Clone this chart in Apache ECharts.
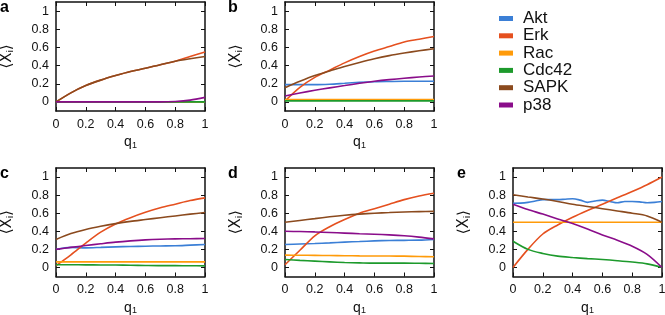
<!DOCTYPE html>
<html>
<head>
<meta charset="utf-8">
<script src="https://cdn.jsdelivr.net/npm/echarts@6/dist/echarts.min.js"></script>
<style>
html,body{margin:0;padding:0;background:#fff;}
#chart{width:665px;height:315px;}
</style>
</head>
<body>
<div id="chart"></div>
<script>
// ---- data ----
var NAMES = ['Akt', 'Erk', 'Rac', 'Cdc42', 'SAPK', 'p38'];
var COLORS = ['#3b7fd6', '#e5501f', '#ff9b0a', '#1d9a2c', '#8b4a1e', '#8a0d8a'];
var PANEL_LABELS = ['a', 'b', 'c', 'd', 'e'];
var Q = [0, 0.1, 0.2, 0.3, 0.4, 0.5, 0.6, 0.7, 0.8, 0.9, 1];
var Q_FINE = [0, 0.05, 0.1, 0.15, 0.2, 0.25, 0.3, 0.35, 0.4, 0.45, 0.5, 0.55, 0.6, 0.65, 0.7, 0.75, 0.8, 0.85, 0.9, 0.95, 1];
var X_TICKS = [0, 0.2, 0.4, 0.6, 0.8, 1];
var Y_TICKS = [0, 0.2, 0.4, 0.6, 0.8, 1];

// panel a
var a_Akt   = [0, 0, 0, 0, 0, 0, 0, 0, 0, 0, 0];
var a_Erk   = [0, 0.10, 0.18, 0.24, 0.29, 0.335, 0.37, 0.41, 0.447, 0.50, 0.55];
var a_Rac   = [0, 0, 0, 0, 0, 0, 0, 0, 0, 0, 0];
var a_Cdc42 = [0, 0, 0, 0, 0, 0, 0, 0, 0, 0, 0];
var a_SAPK  = [0, 0.10, 0.18, 0.24, 0.29, 0.335, 0.37, 0.41, 0.447, 0.475, 0.50];
var a_p38   = [0, 0, 0, 0, 0, 0, 0, 0, 0.005, 0.02, 0.05];
// panel b
var b_Akt   = [0.19, 0.19, 0.19, 0.195, 0.205, 0.215, 0.222, 0.225, 0.227, 0.227, 0.227];
var b_Erk   = [0.01, 0.16, 0.27, 0.35, 0.43, 0.50, 0.56, 0.61, 0.66, 0.69, 0.72];
var b_Rac   = [0.026, 0.026, 0.026, 0.026, 0.026, 0.026, 0.026, 0.026, 0.026, 0.026, 0.026];
var b_Cdc42 = [0.012, 0.012, 0.012, 0.012, 0.012, 0.012, 0.012, 0.012, 0.012, 0.012, 0.012];
var b_SAPK  = [0.157, 0.227, 0.29, 0.34, 0.39, 0.435, 0.476, 0.51, 0.538, 0.563, 0.586];
var b_p38   = [0.066, 0.098, 0.128, 0.155, 0.18, 0.205, 0.227, 0.245, 0.26, 0.274, 0.286];
// panel c
var c_Akt   = [0.2, 0.222, 0.217, 0.222, 0.228, 0.232, 0.235, 0.238, 0.24, 0.247, 0.254];
var c_Erk   = [0.02, 0.14, 0.27, 0.39, 0.48, 0.55, 0.61, 0.66, 0.70, 0.74, 0.77];
var c_Rac   = [0.062, 0.062, 0.062, 0.062, 0.062, 0.062, 0.062, 0.062, 0.062, 0.062, 0.062];
var c_Cdc42 = [0.03, 0.03, 0.029, 0.028, 0.027, 0.025, 0.022, 0.02, 0.02, 0.019, 0.018];
var c_SAPK  = [0.31, 0.375, 0.42, 0.455, 0.485, 0.51, 0.53, 0.55, 0.57, 0.59, 0.607];
var c_p38   = [0.2, 0.222, 0.243, 0.262, 0.28, 0.294, 0.305, 0.312, 0.316, 0.318, 0.32];
// panel d
var d_Akt   = [0.254, 0.26, 0.265, 0.272, 0.28, 0.287, 0.294, 0.298, 0.30, 0.302, 0.31];
var d_Erk   = [0.03, 0.19, 0.35, 0.45, 0.53, 0.60, 0.65, 0.70, 0.75, 0.79, 0.82];
var d_Rac   = [0.136, 0.135, 0.134, 0.132, 0.13, 0.128, 0.127, 0.126, 0.125, 0.121, 0.118];
var d_Cdc42 = [0.088, 0.078, 0.07, 0.062, 0.055, 0.051, 0.048, 0.048, 0.048, 0.046, 0.044];
var d_SAPK  = [0.50, 0.52, 0.54, 0.56, 0.577, 0.59, 0.60, 0.607, 0.614, 0.618, 0.62];
var d_p38   = [0.40, 0.397, 0.393, 0.387, 0.38, 0.373, 0.367, 0.36, 0.35, 0.335, 0.316];
// panel e
var e_Akt   = [0.71, 0.712, 0.72, 0.735, 0.75, 0.75, 0.75, 0.755, 0.76, 0.745, 0.72, 0.735, 0.745, 0.73, 0.715, 0.73, 0.73, 0.725, 0.715, 0.72, 0.73]; // on Q_FINE
var e_Erk   = [0, 0.2, 0.37, 0.47, 0.555, 0.63, 0.70, 0.77, 0.84, 0.915, 1.0];
var e_Rac   = [0.5, 0.5, 0.5, 0.5, 0.5, 0.5, 0.5, 0.5, 0.5, 0.5, 0.5];
var e_Cdc42 = [0.29, 0.2, 0.155, 0.125, 0.11, 0.098, 0.088, 0.075, 0.06, 0.04, 0.0];
var e_SAPK  = [0.805, 0.78, 0.757, 0.73, 0.70, 0.675, 0.65, 0.625, 0.60, 0.57, 0.50];
var e_p38   = [0.70, 0.64, 0.59, 0.535, 0.485, 0.425, 0.36, 0.30, 0.235, 0.145, 0.0];

var PANELS = [
  {x: [Q, Q, Q, Q, Q, Q], y: [a_Akt, a_Erk, a_Rac, a_Cdc42, a_SAPK, a_p38]},
  {x: [Q, Q, Q, Q, Q, Q], y: [b_Akt, b_Erk, b_Rac, b_Cdc42, b_SAPK, b_p38]},
  {x: [Q, Q, Q, Q, Q, Q], y: [c_Akt, c_Erk, c_Rac, c_Cdc42, c_SAPK, c_p38]},
  {x: [Q, Q, Q, Q, Q, Q], y: [d_Akt, d_Erk, d_Rac, d_Cdc42, d_SAPK, d_p38]},
  {x: [Q_FINE, Q, Q, Q, Q, Q], y: [e_Akt, e_Erk, e_Rac, e_Cdc42, e_SAPK, e_p38]}
];

// ---- layout ----
var FONT = "'Liberation Sans', Arial, Helvetica, sans-serif";
var GRIDS = [
  {left: 56, top: 2, width: 149, height: 109},
  {left: 285, top: 2, width: 149, height: 109},
  {left: 56, top: 168, width: 149, height: 108.5},
  {left: 285, top: 168, width: 149, height: 108.5},
  {left: 513, top: 168, width: 149, height: 108.5}
];
var LABEL_POS = [
  {left: 0, top: 0}, {left: 228, top: 0},
  {left: 0, top: 166}, {left: 228, top: 166}, {left: 457, top: 166}
];

var grid = [], xAxis = [], yAxis = [], series = [], title = [];
var lineAx = {show: true, onZero: false, lineStyle: {color: '#111', width: 1.5}};
var tickAx = {show: true, inside: true, length: 4, lineStyle: {color: '#111', width: 1}};

GRIDS.forEach(function (g, i) {
  grid.push(Object.assign({outerBoundsMode: 'none', containLabel: false}, g));
  title.push({text: PANEL_LABELS[i], left: LABEL_POS[i].left, top: LABEL_POS[i].top, padding: 0,
    textStyle: {fontFamily: FONT, fontSize: 16, fontWeight: 'bold', color: '#000'}});
  var xb = {
    type: 'value', gridIndex: i, min: 0, max: 1, interval: 0.2, position: 'bottom',
    axisLine: lineAx, axisTick: tickAx, splitLine: {show: false},
    axisLabel: {show: true, margin: 7, fontFamily: FONT, fontSize: 12.5, color: '#111',
      formatter: function (v) { return String(Math.round(v * 10) / 10); }},
    name: '{q|q}{s|1}', nameLocation: 'middle', nameGap: 24,
    nameTextStyle: {fontFamily: FONT, color: '#111', rich: {
      q: {fontFamily: FONT, fontSize: 14, color: '#111'},
      s: {fontFamily: FONT, fontSize: 9, color: '#111', verticalAlign: 'bottom', padding: [6, 0, 0, 0]}
    }}
  };
  var xt = {
    type: 'value', gridIndex: i, min: 0, max: 1, interval: 0.2, position: 'top',
    axisLine: lineAx, axisTick: tickAx, splitLine: {show: false}, axisLabel: {show: false}
  };
  var yl = {
    type: 'value', gridIndex: i, min: -0.1, max: 1.1, position: 'left',
    axisLine: lineAx, splitLine: {show: false},
    axisTick: Object.assign({customValues: Y_TICKS}, tickAx),
    axisLabel: {show: true, customValues: Y_TICKS, margin: 7, fontFamily: FONT, fontSize: 12.5, color: '#111',
      formatter: function (v) { return String(Math.round(v * 10) / 10); }},
    name: '{a|\u27e8X}{s|i}{a|\u27e9}', nameLocation: 'middle', nameGap: 41,
    nameTextStyle: {fontFamily: FONT, color: '#111', rich: {
      a: {fontFamily: "'DejaVu Sans', " + FONT, fontSize: 15, color: '#111'},
      s: {fontFamily: FONT, fontSize: 9, color: '#111', verticalAlign: 'bottom'}
    }}
  };
  var yr = {
    type: 'value', gridIndex: i, min: -0.1, max: 1.1, position: 'right',
    axisLine: lineAx, splitLine: {show: false},
    axisTick: Object.assign({customValues: Y_TICKS}, tickAx),
    axisLabel: {show: false}
  };
  xAxis.push(xb, xt);
  yAxis.push(yl, yr);
  var p = PANELS[i];
  NAMES.forEach(function (name, k) {
    var xs = p.x[k], ys = p.y[k];
    series.push({
      type: 'line', name: name, xAxisIndex: 2 * i, yAxisIndex: 2 * i,
      data: xs.map(function (x, j) { return [x, ys[j]]; }),
      showSymbol: false, symbol: 'none', smooth: 0.3, animation: false,
      color: COLORS[k], lineStyle: {color: COLORS[k], width: 1.6}, z: 2 + k
    });
  });
});

var chart = echarts.init(document.getElementById('chart'), null, {renderer: 'canvas'});
chart.setOption({
  animation: false,
  backgroundColor: '#fff',
  title: title,
  grid: grid,
  xAxis: xAxis,
  yAxis: yAxis,
  series: series,
  legend: {
    data: NAMES.map(function (n, k) { return {name: n, itemStyle: {color: COLORS[k]}}; }),
    orient: 'vertical', left: 499, top: 10, padding: 0,
    icon: 'rect', itemWidth: 14, itemHeight: 5, itemGap: 0.3,
    selectedMode: false,
    textStyle: {fontFamily: FONT, fontSize: 17, lineHeight: 17, color: '#111', padding: [0, 0, 0, 5]}
  }
});
</script>
</body>
</html>
